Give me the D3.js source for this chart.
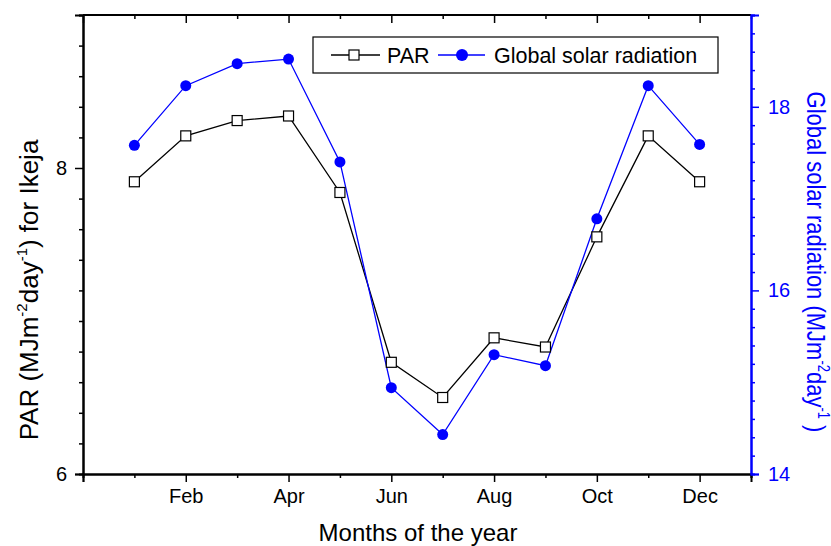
<!DOCTYPE html>
<html lang="en">
<head>
<meta charset="UTF-8">
<title>PAR vs global solar radiation</title>
<script src="https://cdn.jsdelivr.net/npm/d3@7"></script>
<style>
body{margin:0;background:#fff}
svg text{font-family:"Liberation Sans",Arial,sans-serif}
svg .tick text{font-size:20px}
</style>
</head>
<body>
<svg id="chart" width="831" height="546"></svg>
<script>
// data
months=[1,2,3,4,5,6,7,8,9,10,11,12]
monthLabels=['Jan','Feb','Mar','Apr','May','Jun','Jul','Aug','Sep','Oct','Nov','Dec']
par=[7.91,8.21,8.31,8.34,7.84,6.73,6.50,6.89,6.83,7.55,8.21,7.91]
globalRad=[17.58,18.23,18.47,18.52,17.40,14.94,14.43,15.30,15.18,16.78,18.23,17.59]
leftTicks=[6,8]
rightTicks=[14,16,18]

var margin={top:15,right:80,bottom:72,left:83}
var W=831,H=546
var w=W-margin.left-margin.right, h=H-margin.top-margin.bottom
var blue='#0000ff'

var svg=d3.select('#chart')
var g=svg.append('g').attr('transform','translate('+margin.left+','+margin.top+')')

var x=d3.scaleLinear().domain([0,13]).range([0,w])
var yL=d3.scaleLinear().domain([6,9]).range([h,0])
var yR=d3.scaleLinear().domain([14,19]).range([h,0])

var even=d3.range(0,13,2), odd=d3.range(1,14,2)
function monthName(d){return d>=1&&d<=12?monthLabels[d-1]:''}

// bottom axis
var bx=g.append('g').attr('transform','translate(0,'+h+')')
bx.call(d3.axisBottom(x).tickValues(even).tickSize(8).tickPadding(7).tickFormat(monthName))
bx.append('g').call(d3.axisBottom(x).tickValues(odd).tickSize(4).tickFormat(''))
// top axis (ticks inside)
var tx=g.append('g')
tx.call(d3.axisBottom(x).tickValues(even).tickSize(8).tickFormat(''))
tx.append('g').call(d3.axisBottom(x).tickValues(odd).tickSize(4).tickFormat(''))
// left axis
var ly=g.append('g')
ly.call(d3.axisLeft(yL).tickValues(leftTicks).tickSize(8).tickPadding(8).tickFormat(d3.format('d')))
ly.append('g').call(d3.axisLeft(yL).tickValues(d3.range(6,9.01,0.2).filter(function(v){return Math.abs(v-8)>0.01&&Math.abs(v-6)>0.01})).tickSize(4).tickFormat(''))
// right axis
var ry=g.append('g').attr('transform','translate('+w+',0)')
ry.call(d3.axisRight(yR).tickValues(rightTicks).tickSize(8).tickPadding(9).tickFormat(d3.format('d')))
ry.append('g').call(d3.axisRight(yR).tickValues(d3.range(14,19.01,0.2).filter(function(v){return rightTicks.every(function(t){return Math.abs(v-t)>0.01})})).tickSize(4).tickFormat(''))

g.selectAll('.domain').attr('stroke','#000').attr('stroke-width',2)
g.selectAll('.tick line').attr('stroke','#000').attr('stroke-width',1.5)
g.selectAll('.tick text').attr('fill','#000')
ry.selectAll('.domain').attr('stroke',blue)
ry.selectAll('.tick line').attr('stroke',blue)
ry.selectAll('.tick text').attr('fill',blue)
tx.selectAll('.domain').remove()
g.append('line').attr('x1',0).attr('x2',w).attr('y1',0).attr('y2',0).attr('stroke','#000').attr('stroke-width',2)
ry.raise()

// lines
var linePar=d3.line().x(function(d,i){return x(months[i])}).y(function(d){return yL(d)})
var lineGlob=d3.line().x(function(d,i){return x(months[i])}).y(function(d){return yR(d)})
g.append('path').datum(par).attr('d',linePar).attr('fill','none').attr('stroke','#000').attr('stroke-width',1.3)
g.append('path').datum(globalRad).attr('d',lineGlob).attr('fill','none').attr('stroke',blue).attr('stroke-width',1.3)
g.selectAll('.sq').data(par).enter().append('rect').attr('class','sq')
	.attr('x',function(d,i){return x(months[i])-5}).attr('y',function(d){return yL(d)-5})
	.attr('width',10).attr('height',10).attr('fill','#fff').attr('stroke','#000').attr('stroke-width',1.2)
g.selectAll('.dot').data(globalRad).enter().append('circle').attr('class','dot')
	.attr('cx',function(d,i){return x(months[i])}).attr('cy',function(d){return yR(d)})
	.attr('r',5.5).attr('fill',blue)

// legend
var lg=svg.append('g').attr('transform','translate(313,37)')
lg.append('rect').attr('width',405).attr('height',36).attr('fill','#fff').attr('stroke','#000').attr('stroke-width',1.2)
lg.append('line').attr('x1',18).attr('x2',67).attr('y1',18).attr('y2',18).attr('stroke','#000').attr('stroke-width',1.3)
lg.append('rect').attr('x',36).attr('y',13).attr('width',10).attr('height',10).attr('fill','#fff').attr('stroke','#000').attr('stroke-width',1.2)
lg.append('text').attr('x',74).attr('y',25.5).attr('font-size',21.5).text('PAR')
lg.append('line').attr('x1',125).attr('x2',172).attr('y1',18).attr('y2',18).attr('stroke',blue).attr('stroke-width',1.3)
lg.append('circle').attr('cx',149).attr('cy',18).attr('r',6).attr('fill',blue)
lg.append('text').attr('x',181).attr('y',25.5).attr('font-size',21.5).text('Global solar radiation')

// axis titles
svg.append('text').attr('x',418).attr('y',541).attr('text-anchor','middle').attr('font-size',24).text('Months of the year')
var lt=svg.append('text').attr('transform','translate(38,290) rotate(-90)').attr('text-anchor','middle').attr('font-size',26)
lt.append('tspan').text('PAR (MJm')
lt.append('tspan').attr('dy',-11).attr('font-size',15).text('-2')
lt.append('tspan').attr('dy',11).text('day')
lt.append('tspan').attr('dy',-11).attr('font-size',15).text('-1')
lt.append('tspan').attr('dy',11).text(') for Ikeja')
var rt=svg.append('text').attr('transform','translate(807,262) rotate(90) scale(1,1.2)').attr('text-anchor','middle').attr('font-size',22).attr('fill',blue)
rt.append('tspan').text('Global solar radiation (MJm')
rt.append('tspan').attr('dy',-9).attr('font-size',13).text('-2')
rt.append('tspan').attr('dy',9).text('day')
rt.append('tspan').attr('dy',-9).attr('font-size',13).text('-1')
rt.append('tspan').attr('dy',9).text(' )')
</script>
</body>
</html>
